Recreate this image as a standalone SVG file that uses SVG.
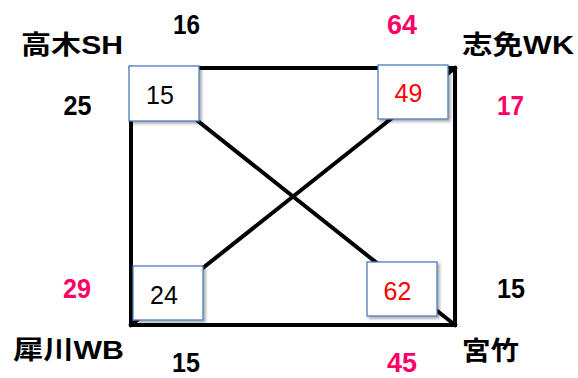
<svg xmlns="http://www.w3.org/2000/svg" width="578" height="378" viewBox="0 0 578 378">
<defs>
<filter id="sh" x="-20%" y="-20%" width="150%" height="150%">
<feDropShadow dx="2" dy="2" stdDeviation="1.5" flood-color="#000" flood-opacity="0.35"/>
</filter>
</defs>
<style>
.ln{stroke:#000;stroke-width:4;fill:none;stroke-linecap:square}
.box{fill:#fff;stroke:#4a7ebb;stroke-width:1.3}
.bt{font-family:"Liberation Sans",Arial,sans-serif;font-size:25px;text-anchor:middle}
.num{font-family:"Liberation Sans",Arial,sans-serif;font-size:28px;font-weight:bold;text-anchor:middle}
.jp{font-family:"Liberation Sans","Noto Sans CJK JP",sans-serif;font-size:26px;font-weight:bold}
.blk{fill:#000}
.pink{fill:#ff0066}
.red{fill:#ff0000}
</style>
<rect width="578" height="378" fill="#fff"/>
<g id="connectors">
<rect class="ln" x="131" y="68" width="324" height="257"/>
<line class="ln" x1="131" y1="68" x2="455" y2="325"/>
<line class="ln" x1="131" y1="325" x2="455" y2="68"/>
</g>
<g id="node-takagi">
<text class="jp blk" x="21" y="54" textLength="102" lengthAdjust="spacingAndGlyphs">高木SH</text>
<text class="num blk" x="186.5" y="34" textLength="27" lengthAdjust="spacingAndGlyphs">16</text>
<text class="num blk" x="77.5" y="115" textLength="28" lengthAdjust="spacingAndGlyphs">25</text>
<rect class="box" x="129" y="66" width="70" height="55" filter="url(#sh)"/>
<text class="bt blk" x="160" y="104">15</text>
</g>
<g id="node-shime">
<text class="jp blk" x="462" y="54" textLength="112" lengthAdjust="spacingAndGlyphs">志免WK</text>
<text class="num pink" x="402" y="34" textLength="30" lengthAdjust="spacingAndGlyphs">64</text>
<text class="num pink" x="510.5" y="115" textLength="27" lengthAdjust="spacingAndGlyphs">17</text>
<rect class="box" x="378" y="65" width="70" height="54" filter="url(#sh)"/>
<text class="bt red" x="408.5" y="102">49</text>
</g>
<g id="node-saikawa">
<text class="jp blk" x="13" y="359" textLength="111" lengthAdjust="spacingAndGlyphs">犀川WB</text>
<text class="num pink" x="77" y="298" textLength="28" lengthAdjust="spacingAndGlyphs">29</text>
<text class="num blk" x="186" y="372" textLength="28" lengthAdjust="spacingAndGlyphs">15</text>
<rect class="box" x="133" y="266" width="70" height="54" filter="url(#sh)"/>
<text class="bt blk" x="164" y="304">24</text>
</g>
<g id="node-miyatake">
<text class="jp blk" x="462" y="360" textLength="57" lengthAdjust="spacingAndGlyphs">宮竹</text>
<text class="num blk" x="511" y="298" textLength="28" lengthAdjust="spacingAndGlyphs">15</text>
<text class="num pink" x="402" y="372" textLength="30" lengthAdjust="spacingAndGlyphs">45</text>
<rect class="box" x="367" y="262" width="70" height="54" filter="url(#sh)"/>
<text class="bt red" x="397.5" y="300">62</text>
</g>
</svg>
